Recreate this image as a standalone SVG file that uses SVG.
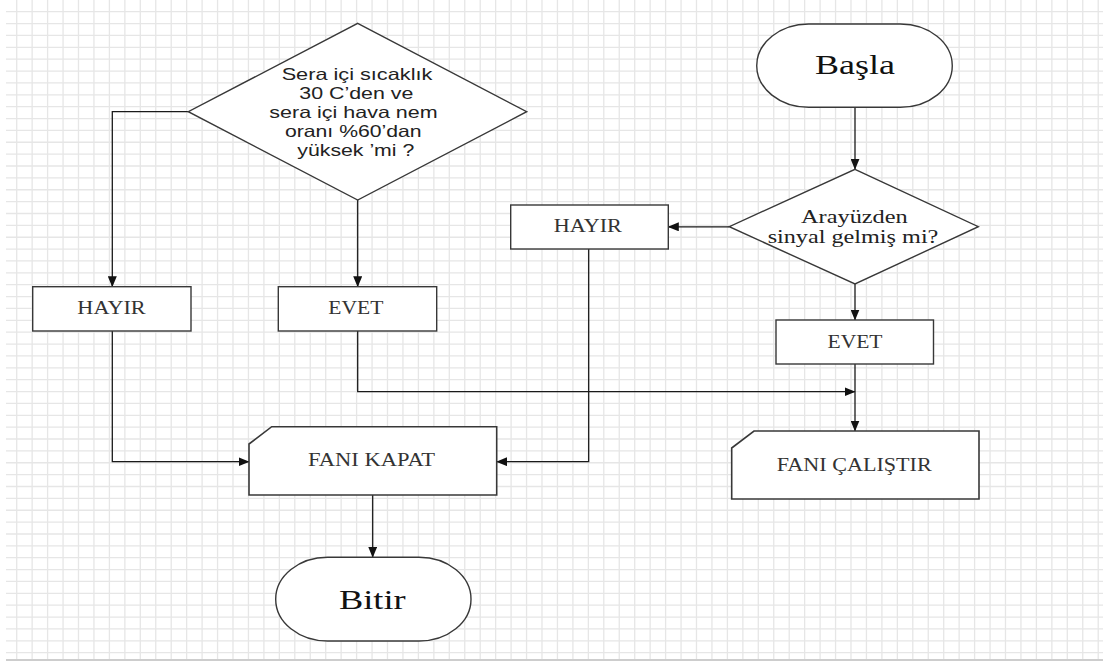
<svg xmlns="http://www.w3.org/2000/svg" width="1103" height="664" viewBox="0 0 1103 664">
  <defs>
    <marker id="arrow" markerUnits="userSpaceOnUse" markerWidth="11" markerHeight="9" refX="10.5" refY="4.5" orient="auto">
      <path d="M0,0 L11,4.5 L0,9 Z" fill="#111"/>
    </marker>
    <style>
      .grid { stroke: #e6e6e6; stroke-width: 1.3; fill: none; }
      .shape { fill: #fff; stroke: #383838; stroke-width: 1.4; }
      .io { fill: #fff; stroke: #383838; stroke-width: 1.6; }
      .conn { fill: none; stroke: #1a1a1a; stroke-width: 1.3; }
      .arrowed { marker-end: url(#arrow); }
      .lbl { font-family: "Liberation Serif", "Times New Roman", serif; font-size: 18px; fill: #333; text-anchor: middle; }
      .term { font-family: "Liberation Serif", "Times New Roman", serif; font-size: 27px; fill: #111; text-anchor: middle; }
      .dec2 { font-family: "Liberation Serif", "Times New Roman", serif; font-size: 18px; fill: #222; text-anchor: middle; }
      .dec1 { font-family: "Liberation Sans", Arial, sans-serif; font-size: 16.5px; fill: #222; text-anchor: middle; }
    </style>
  </defs>

  <!-- page background and squared paper -->
  <rect x="0" y="0" width="1103" height="664" fill="#fff"/>
  <g id="grid">
    <path class="grid" d="M16.7 0V659M32.15 0V659M47.6 0V659M63.05 0V659M78.5 0V659M93.95 0V659M109.4 0V659M124.85 0V659M140.3 0V659M155.75 0V659M171.2 0V659M186.65 0V659M202.1 0V659M217.55 0V659M233 0V659M248.45 0V659M263.9 0V659M279.35 0V659M294.8 0V659M310.25 0V659M325.7 0V659M341.15 0V659M356.6 0V659M372.05 0V659M387.5 0V659M402.95 0V659M418.4 0V659M433.85 0V659M449.3 0V659M464.75 0V659M480.2 0V659M495.65 0V659M511.1 0V659M526.55 0V659M542 0V659M557.45 0V659M572.9 0V659M588.35 0V659M603.8 0V659M619.25 0V659M634.7 0V659M650.15 0V659M665.6 0V659M681.05 0V659M696.5 0V659M711.95 0V659M727.4 0V659M742.85 0V659M758.3 0V659M773.75 0V659M789.2 0V659M804.65 0V659M820.1 0V659M835.55 0V659M851 0V659M866.45 0V659M881.9 0V659M897.35 0V659M912.8 0V659M928.25 0V659M943.7 0V659M959.15 0V659M974.6 0V659M990.05 0V659M1005.5 0V659M1020.95 0V659M1036.4 0V659M1051.85 0V659M1067.3 0V659M1082.75 0V659M1098.2 0V659"/>
    <path class="grid" d="M6 11.7H1103M6 23.57H1103M6 35.44H1103M6 47.31H1103M6 59.18H1103M6 71.05H1103M6 82.92H1103M6 94.79H1103M6 106.66H1103M6 118.53H1103M6 130.4H1103M6 142.27H1103M6 154.14H1103M6 166.01H1103M6 177.88H1103M6 189.75H1103M6 201.62H1103M6 213.49H1103M6 225.36H1103M6 237.23H1103M6 249.1H1103M6 260.97H1103M6 272.84H1103M6 284.71H1103M6 296.58H1103M6 308.45H1103M6 320.32H1103M6 332.19H1103M6 344.06H1103M6 355.93H1103M6 367.8H1103M6 379.67H1103M6 391.54H1103M6 403.41H1103M6 415.28H1103M6 427.15H1103M6 439.02H1103M6 450.89H1103M6 462.76H1103M6 474.63H1103M6 486.5H1103M6 498.37H1103M6 510.24H1103M6 522.11H1103M6 533.98H1103M6 545.85H1103M6 557.72H1103M6 569.59H1103M6 581.46H1103M6 593.33H1103M6 605.2H1103M6 617.07H1103M6 628.94H1103M6 640.81H1103M6 652.68H1103"/>
    <path d="M6 660H1103" stroke="#cdcdcd" stroke-width="2" fill="none"/>
  </g>

  <!-- connectors -->
  <g id="connectors">
    <path class="conn arrowed" d="M188.3 111.7H112.3V286.7"/>
    <path class="conn arrowed" d="M357.7 200V286.7"/>
    <path class="conn arrowed" d="M112.3 331V461.7H249"/>
    <path class="conn arrowed" d="M357.7 331V391.7H855"/>
    <path class="conn arrowed" d="M855 107.3V169.3"/>
    <path class="conn arrowed" d="M729.3 226.8H668.3"/>
    <path class="conn arrowed" d="M855 284V320"/>
    <path class="conn arrowed" d="M855 364V431"/>
    <path class="conn arrowed" d="M588.7 249V461.7H496.7"/>
    <path class="conn arrowed" d="M372.7 495V557.3"/>
  </g>

  <!-- start terminator -->
  <g id="basla">
    <path class="shape" d="M808.7 24H900.3A52 41.65 0 0 1 900.3 107.3H808.7A52 41.65 0 0 1 808.7 24Z"/>
    <text class="term" x="855" y="74" textLength="80" lengthAdjust="spacingAndGlyphs">Başla</text>
  </g>

  <!-- decision: signal from the interface -->
  <g id="arayuz-karar">
    <path class="shape" d="M855 169.3L978.3 226.7L855 284L729.3 226.7Z"/>
    <text class="dec2" x="854.4" y="222.5" textLength="106.7" lengthAdjust="spacingAndGlyphs">Arayüzden</text>
    <text class="dec2" x="853" y="242.5" textLength="170.7" lengthAdjust="spacingAndGlyphs">sinyal gelmiş mi?</text>
  </g>

  <!-- decision: temperature and humidity -->
  <g id="sicaklik-karar">
    <path class="shape" d="M357.7 23.3L526.7 111.7L357.7 200L188.3 111.7Z"/>
    <text class="dec1" x="357" y="80" textLength="150.7" lengthAdjust="spacingAndGlyphs">Sera içi sıcaklık</text>
    <text class="dec1" x="356.3" y="99.3" textLength="114" lengthAdjust="spacingAndGlyphs">30 C’den ve</text>
    <text class="dec1" x="353.5" y="118.3" textLength="168.3" lengthAdjust="spacingAndGlyphs">sera içi hava nem</text>
    <text class="dec1" x="353.3" y="137.3" textLength="136.7" lengthAdjust="spacingAndGlyphs">oranı %60’dan</text>
    <text class="dec1" x="355.8" y="156" textLength="117" lengthAdjust="spacingAndGlyphs">yüksek ’mi ?</text>
  </g>

  <g id="hayir-sol">
    <rect class="shape" x="32.7" y="286.7" width="158.3" height="44.3"/>
    <text class="lbl" x="111.5" y="314.3" textLength="68.3" lengthAdjust="spacingAndGlyphs">HAYIR</text>
  </g>

  <g id="evet-sol">
    <rect class="shape" x="278.3" y="286.7" width="158.4" height="44.3"/>
    <text class="lbl" x="355.8" y="314.3" textLength="55" lengthAdjust="spacingAndGlyphs">EVET</text>
  </g>

  <g id="hayir-sag">
    <rect class="shape" x="510.7" y="205" width="157.6" height="44"/>
    <text class="lbl" x="587.8" y="232.3" textLength="68.3" lengthAdjust="spacingAndGlyphs">HAYIR</text>
  </g>

  <g id="evet-sag">
    <rect class="shape" x="776" y="320" width="157.5" height="44"/>
    <text class="lbl" x="855" y="347.5" textLength="55" lengthAdjust="spacingAndGlyphs">EVET</text>
  </g>

  <!-- fan off -->
  <g id="fani-kapat">
    <path class="io" d="M271.7 426.7H496.7V495H249V444Z"/>
    <text class="lbl" x="371.5" y="465.7" textLength="127" lengthAdjust="spacingAndGlyphs">FANI KAPAT</text>
  </g>

  <!-- fan on -->
  <g id="fani-calistir">
    <path class="io" d="M754 431H979V499H731.7V448Z"/>
    <text class="lbl" x="854.2" y="470.7" textLength="155" lengthAdjust="spacingAndGlyphs">FANI ÇALIŞTIR</text>
  </g>

  <!-- end terminator -->
  <g id="bitir">
    <path class="shape" d="M327.7 557.3H419A52 41.85 0 0 1 419 641H327.7A52 41.85 0 0 1 327.7 557.3Z"/>
    <text class="term" x="372.3" y="609.3" textLength="66.7" lengthAdjust="spacingAndGlyphs">Bitir</text>
  </g>
</svg>
